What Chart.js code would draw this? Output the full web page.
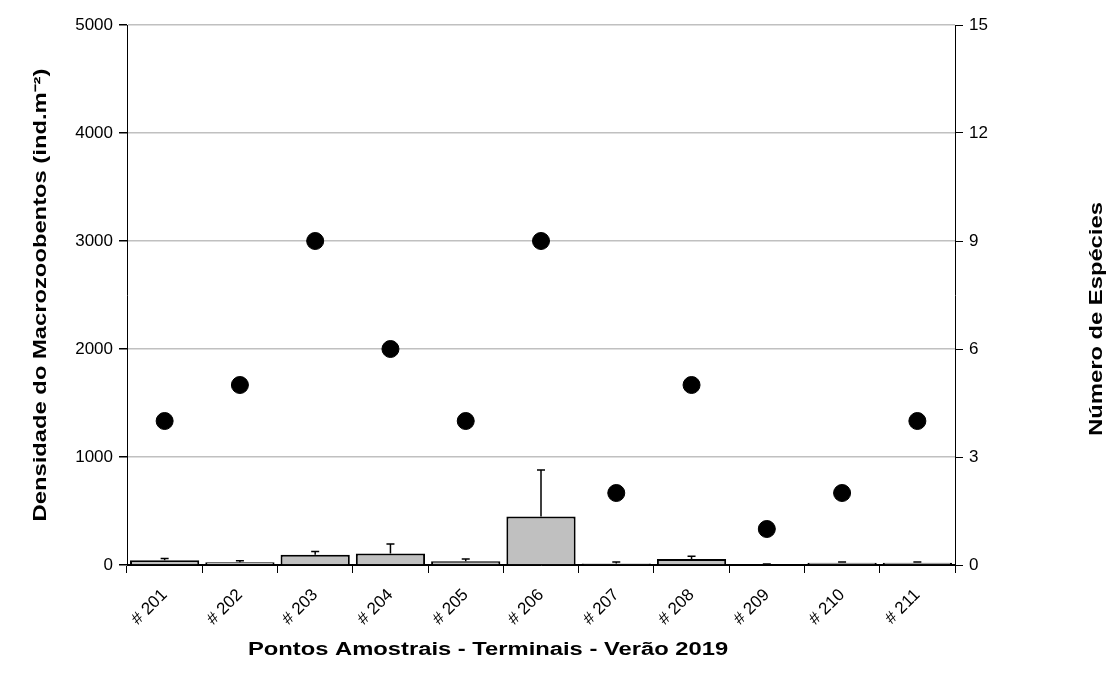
<!DOCTYPE html>
<html>
<head>
<meta charset="utf-8">
<script src="https://cdn.jsdelivr.net/npm/chart.js@4"></script>
<style>
  html, body { margin: 0; padding: 0; background: #fff; }
  #wrap { width: 1110px; height: 677px; }
</style>
</head>
<body>
<div id="wrap"><canvas id="chart" width="1110" height="677"></canvas></div>
<script>
/* ── Dados ─────────────────────────────────────────────────────────────── */
const pontos    = ['# 201', '# 202', '# 203', '# 204', '# 205', '# 206', '# 207', '# 208', '# 209', '# 210', '# 211'];
const densidade = [45, 25, 95, 107, 35, 450, 15, 55, 5, 20, 20];
const desvio    = [15, 15, 30, 87, 20, 430, 12, 25, 5, 8, 8];
const especies  = [4, 5, 9, 6, 4, 9, 2, 5, 1, 2, 4];

const FONT    = '"Liberation Sans", Arial, sans-serif';
const TITLE_X = 'Pontos Amostrais - Terminais - Verão 2019';
const TITLE_Y = 'Densidade do Macrozoobentos (ind.m⁻²)';
const TITLE_R = 'Número de Espécies';

// error bars (only upward), drawn from the bar data through the y scale
const errorBars = {
  id: 'errorBars',
  afterDatasetsDraw(chart) {
    const meta = chart.getDatasetMeta(1);
    const y = chart.scales.y;
    const ctx = chart.ctx;
    ctx.save();
    ctx.strokeStyle = '#000';
    ctx.lineWidth = 1.5;
    meta.data.forEach((bar, i) => {
      const top = y.getPixelForValue(densidade[i]);
      const end = y.getPixelForValue(densidade[i] + desvio[i]);
      ctx.beginPath();
      ctx.moveTo(bar.x, top);
      ctx.lineTo(bar.x, end);
      ctx.moveTo(bar.x - 4, end);
      ctx.lineTo(bar.x + 4, end);
      ctx.stroke();
    });
    ctx.restore();
  },
};

// axis titles: the original's lettering is wide, so stretch along the text
const axisTitles = {
  id: 'axisTitles',
  afterDraw(chart) {
    const ctx = chart.ctx;
    const a = chart.chartArea;
    const midY = (a.top + a.bottom) / 2;
    const put = (text, x, y, rot) => {
      ctx.save();
      ctx.translate(x, y);
      ctx.rotate(rot);
      ctx.scale(1.32, 1);
      ctx.font = 'bold 18px ' + FONT;
      ctx.fillStyle = '#000';
      ctx.textAlign = 'center';
      ctx.textBaseline = 'middle';
      ctx.fillText(text, 0, 0);
      ctx.restore();
    };
    put(TITLE_X, 488, 650, 0);
    put(TITLE_Y, 41, midY, -Math.PI / 2);
    put(TITLE_R, 1097, midY + 24, -Math.PI / 2);
  },
};

new Chart(document.getElementById('chart').getContext('2d'), {
  data: {
    labels: pontos,
    datasets: [
      {
        type: 'line',
        label: TITLE_R,
        data: especies,
        yAxisID: 'y1',
        showLine: false,
        pointRadius: 8.5,
        pointHoverRadius: 8.5,
        pointBackgroundColor: '#000',
        pointBorderColor: '#000',
        order: 0,
      },
      {
        type: 'bar',
        label: 'Densidade',
        data: densidade,
        yAxisID: 'y',
        backgroundColor: '#c0c0c0',
        borderColor: '#000',
        borderWidth: 2,
        barPercentage: 0.92,
        categoryPercentage: 1,
        order: 1,
      },
    ],
  },
  options: {
    responsive: false,
    animation: false,
    events: [],
    layout: { padding: { top: 25, left: 20, right: 0, bottom: 0 } },
    plugins: { legend: { display: false }, tooltip: { enabled: false } },
    scales: {
      x: {
        offset: true,
        grid: { offset: true, drawOnChartArea: false, color: '#000', tickLength: 8 },
        border: { color: '#000', width: 1 },
        ticks: { color: '#000', font: { family: FONT, size: 17 }, maxRotation: 45, minRotation: 45, padding: 12 },
        afterFit: s => { s.height = 112; },
      },
      y: {
        position: 'left',
        min: 0, max: 5000,
        ticks: { stepSize: 1000, color: '#000', font: { family: FONT, size: 17 }, padding: 6, callback: v => String(v) },
        grid: { color: ctx => ctx.tick.value === 0 ? '#000' : '#c0c0c0', lineWidth: 1.5, tickColor: '#000', tickLength: 8 },
        border: { color: '#000', width: 1 },
        afterFit: s => { s.width = 107; },
      },
      y1: {
        position: 'right',
        min: 0, max: 15,
        ticks: { stepSize: 3, color: '#000', font: { family: FONT, size: 17 }, padding: 6 },
        grid: { drawOnChartArea: false, color: '#000', tickLength: 8 },
        border: { color: '#000', width: 1 },
        afterFit: s => { s.width = 155; },
      },
    },
  },
  plugins: [errorBars, axisTitles],
});
</script>
</body>
</html>
